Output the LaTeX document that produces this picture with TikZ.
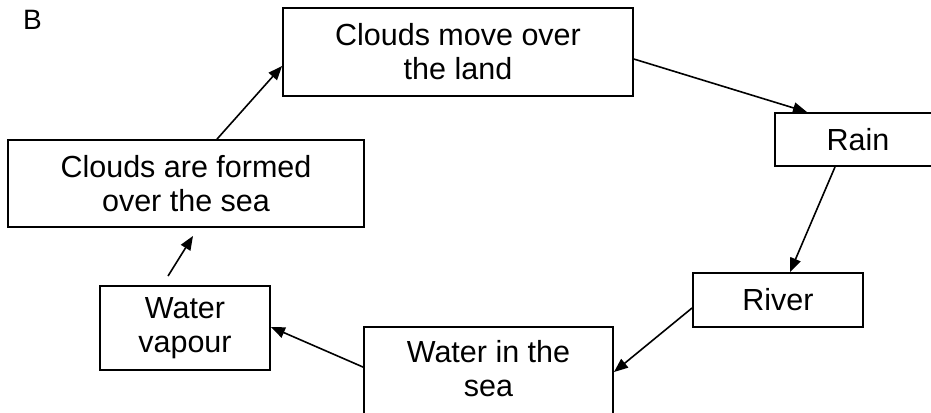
\documentclass[tikz,border=0pt]{standalone}
\usepackage{fontspec}
\setmainfont{Liberation Sans}
\usetikzlibrary{arrows.meta,calc}
\begin{document}
\begin{tikzpicture}[x=1pt,y=-1pt,
  box/.style={draw, line width=1.9pt, rectangle, inner sep=0pt, align=center, font=\fontsize{30.5}{34}\selectfont},
  lbl/.style={inner sep=0pt, align=center, font=\fontsize{30.5}{34}\selectfont},
  arr/.style={line width=1.6pt, -{Triangle[length=14pt,width=11pt]}}]
\clip (0,0) rectangle (931,412);
\node[anchor=base west, inner sep=0pt, font=\fontsize{28}{30}\selectfont] (B) at (23,30) {B};
\node[box, minimum width=350, minimum height=88] (top) at (458,52) {Clouds move over\\the land};
\node[box, minimum width=166, minimum height=53] (rain) at (858,139.5) {Rain};
\node[box, minimum width=356, minimum height=87] (cf) at (186,183.5) {Clouds are formed\\over the sea};
\node[box, minimum width=170, minimum height=54] (river) at (778,300) {River};
\node[box, minimum width=170, minimum height=84] (vap) at (185,328) {Water\\vapour};
\node[box, minimum width=249, minimum height=100] (sea) at (488.5,377) {};
\node[lbl] (seatxt) at (488.5,369) {Water in the\\sea};
\draw[arr] ($(cf.north west)+(210,0)$) -- ($(top.north west)+(0,59)$);
\draw[arr] ($(top.north east)+(0,52)$) -- ($(rain.north)+(-51,0)$);
\draw[arr] ($(rain.south)+(-23,0)$) -- ($(river.north)+(12,0)$);
\draw[arr] ($(river.west)+(0,8)$) -- ($(sea.north east)+(0,46)$);
\draw[arr] ($(sea.north west)+(0,41)$) -- ($(vap.east)+(0,-1)$);
\draw[arr] ($(vap.north)+(-17,-9)$) -- ($(cf.south)+(7,8)$);
\end{tikzpicture}
\end{document}
